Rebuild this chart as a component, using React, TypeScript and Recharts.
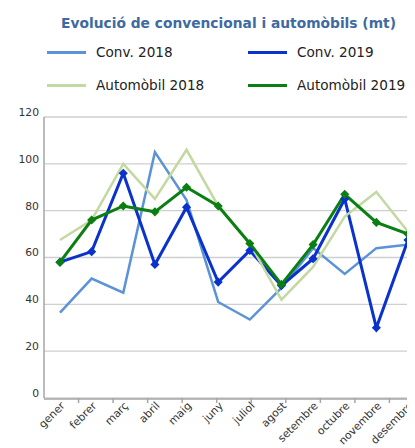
import { LineChart, Line, XAxis, YAxis, CartesianGrid, Legend } from 'recharts'

const months = ['gener', 'febrer', 'març', 'abril', 'maig', 'juny', 'juliol', 'agost', 'setembre', 'octubre', 'novembre', 'desembre']
const conv2018 = [36.5, 51, 45, 105, 84.5, 41, 33.5, 47, 64, 53, 64, 65.5]
const conv2019 = [58, 62.5, 96, 57, 81.5, 49.5, 63, 48, 59.5, 85, 30, 67.5]
const auto2018 = [67.5, 76, 100, 85, 106, 82, 66, 42, 56, 77.5, 88, 71]
const auto2019 = [58, 76, 82, 79.5, 90, 82, 66, 48.5, 65.5, 87, 75, 70]
const yTicks = [0, 20, 40, 60, 80, 100, 120]
const boundaryTicks = [1, 2, 3, 4, 5, 6, 7, 8, 9, 10, 11]

const series = [
  { key: 'conv2018', name: 'Conv. 2018', color: '#5b93d6', width: 2.5, marker: false },
  { key: 'conv2019', name: 'Conv. 2019', color: '#0a32cc', width: 3, marker: true },
  { key: 'auto2018', name: 'Automòbil 2018', color: '#c4d8a2', width: 2.5, marker: false },
  { key: 'auto2019', name: 'Automòbil 2019', color: '#0b7f12', width: 3, marker: true },
]

const data = months.map((m, i) => ({
  month: m,
  conv2018: conv2018[i],
  conv2019: conv2019[i],
  auto2018: auto2018[i],
  auto2019: auto2019[i],
}))

const font = '"DejaVu Sans", Verdana, sans-serif'

function Diamond(props: any) {
  const { cx, cy, stroke } = props
  if (cx == null || cy == null) return null
  const r = 3.5
  return <path d={`M${cx},${cy - r}L${cx + r},${cy}L${cx},${cy + r}L${cx - r},${cy}Z`} fill={stroke} stroke={stroke} strokeWidth={1.5} />
}

function MonthTick(props: any) {
  const { x, y, payload } = props
  const tx = x + 3
  const ty = y - 3
  return (
    <text x={tx} y={ty} transform={`rotate(-45 ${tx} ${ty})`} textAnchor="end" dominantBaseline="central" fill="#333" fontSize={10.8} fontFamily={font}>
      {payload.value}
    </text>
  )
}

// boundary tick marks only, no label
function EmptyTick() {
  return <g />
}

function ChartLegend() {
  return (
    <div style={{ fontFamily: font, width: 407, height: 109 }}>
      <div style={{ textAlign: 'center', color: '#3f6aa1', fontWeight: 'bold', fontSize: 13.8, paddingTop: 7, paddingLeft: 34, height: 22 }}>
        Evolució de convencional i automòbils (mt)
      </div>
      <div style={{ display: 'grid', gridTemplateColumns: '201px 170px', rowGap: 11, paddingLeft: 39, marginTop: 4 }}>
        {series.map(s => (
          <div key={s.key} style={{ display: 'flex', alignItems: 'center', height: 22, fontSize: 13.6, color: '#222', whiteSpace: 'nowrap' }}>
            <span style={{ display: 'inline-block', width: 39, height: 3, background: s.color, marginRight: 10 }} />
            {s.name}
          </div>
        ))}
      </div>
    </div>
  )
}

export default function App() {
  return (
    <div style={{ width: 407, height: 440, overflow: 'hidden', position: 'relative' }}>
      <LineChart width={430} height={440} data={data} margin={{ top: 0, right: 14, left: 0, bottom: 0 }}>
        <Legend verticalAlign="top" align="left" content={() => <ChartLegend />} wrapperStyle={{ left: 0, top: 0 }} />
        <CartesianGrid xAxisId="b-main" vertical={false} stroke="#cfcfcf" strokeWidth={1.3} />
        <XAxis xAxisId="a-bound" type="number" domain={[0, 12]} allowDataOverflow ticks={boundaryTicks} tick={<EmptyTick />} tickSize={5} axisLine={false} tickLine={{ stroke: '#a6a6a6', strokeWidth: 1.5 }} height={1} />
        <XAxis xAxisId="b-main" dataKey="month" tick={<MonthTick />} tickLine={false} axisLine={{ stroke: '#a6a6a6', strokeWidth: 1.5 }} padding={{ left: 16, right: 16 }} interval={0} height={49} />
        <YAxis domain={[0, 120]} ticks={yTicks} width={36} tickSize={3} tickMargin={2} tickLine={false} axisLine={{ stroke: '#a6a6a6', strokeWidth: 1.5 }} tick={{ fill: '#333', fontSize: 10.8, fontFamily: font, dy: -5 }} />
        {series.map(s => (
          <Line key={s.key} xAxisId="b-main" type="linear" dataKey={s.key} name={s.name} stroke={s.color} strokeWidth={s.width} dot={s.marker ? <Diamond /> : false} activeDot={false} isAnimationActive={false} />
        ))}
      </LineChart>
    </div>
  )
}
